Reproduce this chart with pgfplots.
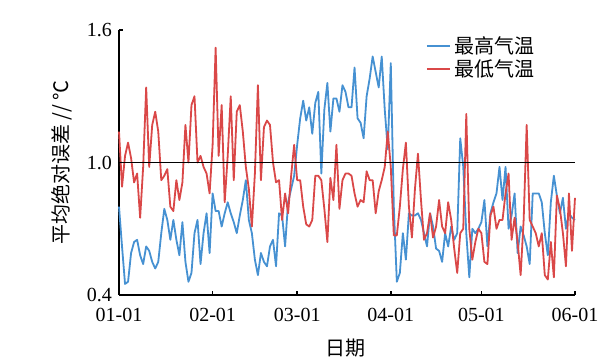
\documentclass[border=0pt]{standalone}
\usepackage{fontspec}
\setmainfont{Liberation Serif}
\newfontfamily\cjk{Noto Sans CJK SC}
\usepackage{pgfplots}
\usepackage{pgfplotstable}
\pgfplotsset{compat=1.18}
\definecolor{hiblue}{RGB}{70,145,210}
\definecolor{lored}{RGB}{218,72,72}
\pgfplotstableread{
d hi lo
0 0.80 1.14
1 0.62 0.89
2 0.45 1.03
3 0.46 1.09
4 0.59 1.02
5 0.64 0.91
6 0.65 0.95
7 0.58 0.75
8 0.54 0.98
9 0.62 1.34
10 0.60 0.98
11 0.55 1.17
12 0.52 1.23
13 0.55 1.14
14 0.68 0.92
15 0.79 0.94
16 0.74 0.97
17 0.65 0.80
18 0.74 0.78
19 0.65 0.92
20 0.58 0.83
21 0.73 0.91
22 0.55 1.17
23 0.46 1.00
24 0.50 1.26
25 0.68 1.30
26 0.74 1.00
27 0.54 1.03
28 0.68 0.98
29 0.77 0.95
30 0.59 0.86
31 0.86 1.08
32 0.78 1.52
33 0.78 1.03
34 0.71 1.26
35 0.77 0.82
36 0.82 1.03
37 0.77 1.30
38 0.73 0.92
39 0.68 1.23
40 0.76 1.26
41 0.83 1.14
42 0.92 0.98
43 0.74 0.88
44 0.68 0.71
45 0.56 0.95
46 0.49 1.35
47 0.59 0.92
48 0.55 1.16
49 0.53 1.19
50 0.62 1.17
51 0.65 1.00
52 0.53 0.91
53 0.77 0.92
54 0.76 0.74
55 0.62 0.86
56 0.82 0.77
57 0.88 0.94
58 0.94 1.08
59 1.08 0.92
60 1.20 0.92
61 1.28 0.80
62 1.19 0.72
63 1.25 0.71
64 1.13 0.74
65 1.27 0.94
66 1.32 0.94
67 0.95 0.92
68 1.24 0.79
69 1.36 0.64
70 1.14 0.93
71 1.29 0.83
72 1.29 1.08
73 1.23 0.79
74 1.35 0.92
75 1.32 0.95
76 1.25 0.95
77 1.25 0.94
78 1.43 0.86
79 1.20 0.80
80 1.18 0.83
81 1.11 0.82
82 1.30 0.96
83 1.38 0.92
84 1.48 0.92
85 1.41 0.77
86 1.34 0.87
87 1.48 0.92
88 1.24 0.98
89 1.06 1.14
90 1.45 0.98
91 0.80 0.67
92 0.46 0.67
93 0.50 0.80
94 0.68 0.97
95 0.56 1.09
96 0.77 0.80
97 0.76 0.66
98 0.76 0.88
99 0.77 1.04
100 0.74 0.83
101 0.68 0.65
102 0.62 0.68
103 0.77 0.77
104 0.71 0.66
105 0.61 0.71
106 0.60 0.83
107 0.55 0.71
108 0.68 0.68
109 0.62 0.82
110 0.71 0.74
111 0.65 0.61
112 0.68 0.50
113 1.11 0.68
114 0.98 0.70
115 0.68 1.22
116 0.48 0.70
117 0.70 0.56
118 0.68 0.64
119 0.70 0.70
120 0.73 0.68
121 0.83 0.55
122 0.62 0.54
123 0.77 0.76
124 0.82 0.80
125 0.86 0.70
126 0.98 0.74
127 0.83 0.74
128 0.98 0.86
129 0.70 0.95
130 0.76 0.65
131 0.86 0.75
132 0.59 0.64
133 0.71 0.49
134 0.67 0.74
135 0.62 1.17
136 0.54 0.74
137 0.86 0.71
138 0.86 0.68
139 0.86 0.62
140 0.82 0.68
141 0.68 0.49
142 0.58 0.47
143 0.82 0.64
144 0.94 0.48
145 0.85 0.85
146 0.77 0.79
147 0.84 0.68
148 0.70 0.53
149 0.77 0.86
150 0.75 0.60
151 0.74 0.84
}\datatable
\begin{document}
\begin{tikzpicture}
\useasboundingbox[fill=white] (0,0) rectangle (306pt,179.5pt);
\begin{axis}[
  at={(59.5pt,32pt)}, anchor=south west,
  scale only axis, width=228pt, height=132.5pt,
  xmin=0, xmax=151, ymin=0.4, ymax=1.6,
  axis lines*=left,
  axis line style={line width=0.8pt},
  tick align=inside, major tick length=2pt,
  tick style={line width=0.8pt, black},
  xtick={0,31,59,90,120,151},
  xticklabels={01-01,02-01,03-01,04-01,05-01,06-01},
  ytick={0.4,1.0,1.6},
  yticklabels={0.4,1.0,1.6},
  tick label style={font=\fontsize{10}{12}\selectfont},
  xticklabel style={yshift=-3pt},
  xlabel={\cjk 日期},
  ylabel={\cjk 平均绝对误差 // ℃},
  xlabel style={at={(rel axis cs:0.496,-0.2)}, anchor=center, font=\fontsize{10}{12}\selectfont},
  ylabel style={at={(rel axis cs:-0.125,0.5)}, anchor=center, font=\fontsize{10}{12}\selectfont},
  legend style={at={(rel axis cs:0.668,1.0)}, anchor=north west, draw=none, fill=none,
    font=\cjk\fontsize{10}{12}\selectfont, row sep=-2.5pt, inner sep=1pt},
  legend cell align=left,
  legend image code/.code={\draw[#1] (0pt,0pt) -- (11.5pt,0pt);},
  clip=false,
]
\addplot[hiblue, line width=0.9pt, line join=round] table[x=d, y=hi] {\datatable};
\addlegendentry{最高气温}
\addplot[lored, line width=0.9pt, line join=round] table[x=d, y=lo] {\datatable};
\addlegendentry{最低气温}
\addplot[black, line width=0.8pt, forget plot] coordinates {(0,1) (151,1)};
\end{axis}
\end{tikzpicture}
\end{document}
